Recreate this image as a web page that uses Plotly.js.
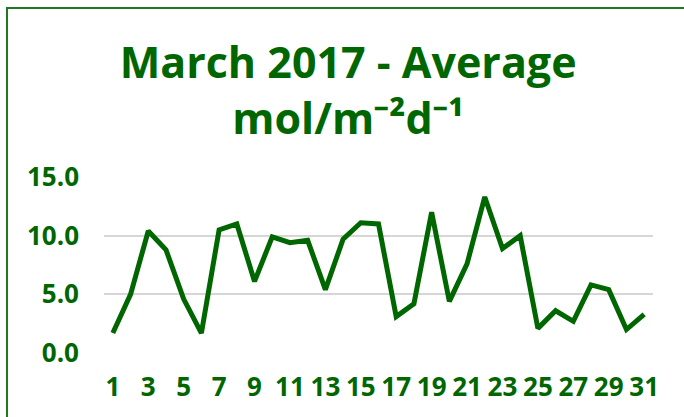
<!DOCTYPE html>
<html>
<head>
<meta charset="utf-8">
<script src="https://cdn.plot.ly/plotly-3.0.1.min.js"></script>
<style>
  html, body { margin: 0; padding: 0; background: #ffffff; overflow: hidden; }
  #wrap { position: relative; width: 684px; height: 417px; overflow: hidden; }
  #chart { position: absolute; left: 0; top: 0; width: 684px; height: 417px; }
  #frame { position: absolute; left: 6px; top: 7px; width: 720px; height: 440px;
           border: 2px solid #1f7a1f; box-sizing: border-box; pointer-events: none; }
</style>
</head>
<body>
<div id="wrap">
  <div id="chart"></div>
  <div id="frame"></div>
</div>
<script>
// Days of March 2017
const days = ['1','2','3','4','5','6','7','8','9','10','11','12','13','14','15','16',
              '17','18','19','20','21','22','23','24','25','26','27','28','29','30','31'];
// Daily average (mol/m^-2 d^-1)
const avgValues = [1.7, 5.0, 10.4, 8.8, 4.6, 1.7, 10.5, 11.0, 6.1, 9.9, 9.4, 9.6, 5.4, 9.7, 11.1, 11.0,
                   3.1, 4.2, 12.0, 4.4, 7.6, 13.3, 8.9, 10.0, 2.1, 3.6, 2.7, 5.8, 5.4, 2.0, 3.3];
// Tick labels shown on the x axis
const xTickLabels = ['1','3','5','7','9','11','13','15','17','19','21','23','25','27','29','31'];
const yTickValues = [0, 5, 10, 15];

const green = '#006600';
const tickFont = { family: 'Open Sans, sans-serif', size: 26, color: green, weight: 700 };

const trace = {
  type: 'scatter',
  mode: 'lines',
  x: days,
  y: avgValues,
  line: { color: green, width: 5, shape: 'linear' },
  hoverinfo: 'x+y'
};

const layout = {
  width: 684,
  height: 417,
  autosize: false,
  paper_bgcolor: '#ffffff',
  plot_bgcolor: '#ffffff',
  showlegend: false,
  margin: { l: 104, r: 31, t: 177, b: 64, pad: 0 },
  title: {
    text: 'March 2017 - Average<br>mol/m⁻²d⁻¹',
    font: { family: 'Open Sans, sans-serif', size: 43, color: green, weight: 700 },
    xref: 'container', x: 0.509, xanchor: 'center',
    yref: 'container', y: 1 - 78 / 417, yanchor: 'top'
  },
  xaxis: {
    type: 'category',
    range: [-0.5, 30.5],
    tickmode: 'array',
    tickvals: xTickLabels,
    ticktext: xTickLabels,
    tickfont: tickFont,
    showgrid: false,
    showline: false,
    zeroline: false,
    ticks: '',
    ticklabelstandoff: 16
  },
  yaxis: {
    range: [0, 15],
    tickmode: 'array',
    tickvals: yTickValues,
    tickformat: '.1f',
    tickfont: tickFont,
    showgrid: true,
    gridcolor: '#d6d6d6',
    gridwidth: 2,
    zeroline: false,
    showline: false,
    ticks: '',
    ticklabelstandoff: 24
  }
};

Plotly.newPlot('chart', [trace], layout, { displayModeBar: false, staticPlot: true });
</script>
</body>
</html>
